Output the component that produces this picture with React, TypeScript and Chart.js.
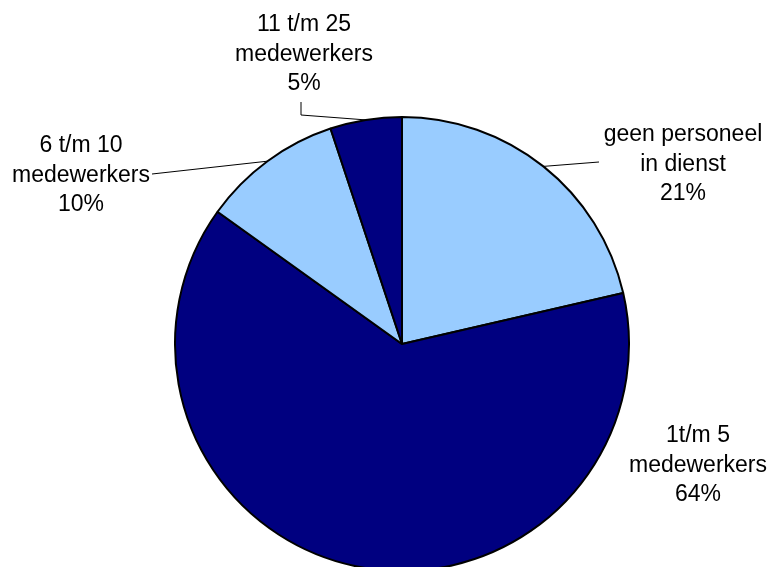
import React, { useEffect, useRef } from "react";
import { Chart, registerables } from "chart.js";

Chart.register(...registerables);

const categories: string[][] = [
  ["geen personeel", "in dienst"],
  ["1t/m 5", "medewerkers"],
  ["6 t/m 10", "medewerkers"],
  ["11 t/m 25", "medewerkers"],
];
const shares: number[] = [21.4, 63.5, 10.0, 5.1];
const sliceColors: string[] = ["#99CCFF", "#000080", "#99CCFF", "#000080"];

// label layout: center x, first baseline, leader line path end points (from arc edge)
const labelLayout = [
  { x: 683, y: 141, leader: [[599, 162]] },
  { x: 698, y: 442, leader: null },
  { x: 81, y: 152, leader: [[152, 174]] },
  { x: 304, y: 31, leader: [[301, 115], [301, 102]] },
];

const labelPlugin = {
  id: "pieLabels",
  afterDraw(chart: any) {
    const ctx = chart.ctx;
    const meta = chart.getDatasetMeta(0);
    const total = shares.reduce((a, b) => a + b, 0);
    ctx.save();
    ctx.font = '23px "Liberation Sans", Arial, sans-serif';
    ctx.fillStyle = "#000";
    ctx.textAlign = "center";
    ctx.textBaseline = "alphabetic";
    meta.data.forEach((arc: any, i: number) => {
      const L = labelLayout[i];
      const pct = Math.round((shares[i] / total) * 100) + "%";
      const lines = [...categories[i], pct];
      lines.forEach((t, k) => ctx.fillText(t, L.x, L.y + k * 29.5));
      if (L.leader) {
        const p = arc.getProps(["x", "y", "startAngle", "endAngle", "outerRadius"], true);
        const mid = (p.startAngle + p.endAngle) / 2;
        const sx = p.x + Math.cos(mid) * p.outerRadius;
        const sy = p.y + Math.sin(mid) * p.outerRadius;
        ctx.beginPath();
        ctx.strokeStyle = "#000";
        ctx.lineWidth = 1;
        ctx.moveTo(sx, sy);
        L.leader.forEach((pt) => ctx.lineTo(pt[0], pt[1]));
        ctx.stroke();
      }
    });
    ctx.restore();
  },
};

export default function App() {
  const ref = useRef<HTMLCanvasElement>(null);
  useEffect(() => {
    if (!ref.current) return;
    const chart = new Chart(ref.current, {
      type: "pie",
      data: {
        labels: categories.map((c) => c.join(" ")),
        datasets: [
          {
            data: shares,
            backgroundColor: sliceColors,
            borderColor: "#000",
            borderWidth: 2,
            radius: 227,
            clip: false,
          } as any,
        ],
      },
      options: {
        animation: false,
        responsive: false,
        layout: { padding: { left: 35, right: 0, top: 121, bottom: 0 } },
        plugins: {
          legend: { display: false },
          tooltip: { enabled: false },
        },
      },
      plugins: [labelPlugin],
    });
    return () => chart.destroy();
  }, []);
  return (
    <div style={{ position: "fixed", left: 0, top: 0, width: 769, height: 567, overflow: "hidden", background: "#fff" }}>
      <canvas ref={ref} width={769} height={567} style={{ display: "block" }} />
    </div>
  );
}
